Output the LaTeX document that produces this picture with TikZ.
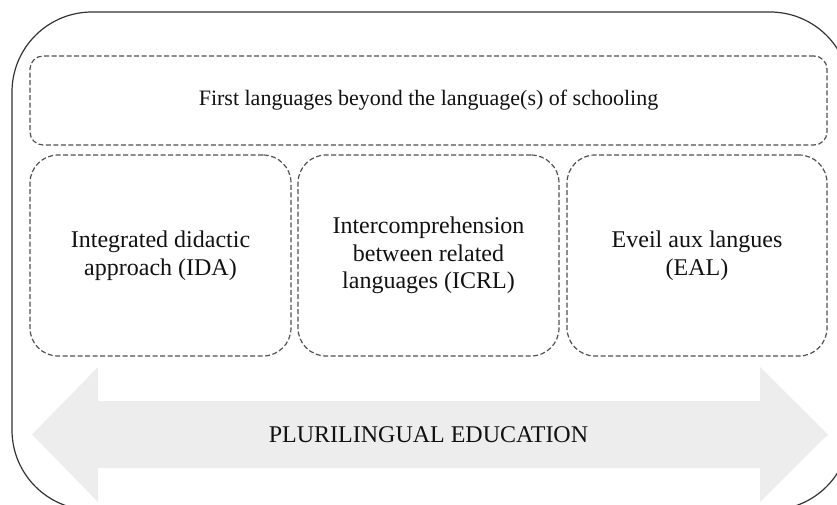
\documentclass[tikz,border=0pt]{standalone}
\usepackage{fontspec}
\setmainfont{Liberation Serif}
\definecolor{dashgray}{HTML}{505050}
\definecolor{outergray}{HTML}{333333}
\definecolor{arrowfill}{HTML}{EDEDED}
\definecolor{textblack}{HTML}{111111}
\begin{document}
\begin{tikzpicture}[x=1pt,y=-1pt,
  dbox/.style={draw=dashgray, line width=1.2pt, dash pattern=on 5pt off 2.5pt,
    rectangle, inner sep=0pt, align=center, text=textblack,
    font=\fontsize{24}{27.5}\selectfont},
  topbox/.style={dbox, rounded corners=13pt, minimum width=797pt, minimum height=89pt,
    font=\fontsize{22}{26}\selectfont},
  subbox/.style={dbox, rounded corners=28pt, minimum height=201pt},
  lbl/.style={text=textblack, font=\fontsize{24}{27.5}\selectfont, inner sep=0pt}]
\useasboundingbox (0,0) rectangle (837,504);
\begin{scope}
  \clip (0,0) rectangle (837,504);
  \draw[outergray, line width=1.2pt, rounded corners=80pt] (12,12) rectangle (850,510);
\end{scope}
\node[topbox] (first) at (428.5,100.5) {First languages beyond the language(s) of schooling};
\node[subbox, minimum width=261pt] (ida) at (160.5,255.5) {Integrated didactic\\approach (IDA)};
\node[subbox, minimum width=261pt] (icrl) at (428.5,255.5) {Intercomprehension\\between related\\languages (ICRL)};
\node[subbox, minimum width=260pt] (eal) at (697,255.5) {Eveil aux langues\\(EAL)};
\fill[arrowfill] (32,434.5) -- (98,367) -- (98,401) -- (760,401) -- (760,367) -- (828,434.5)
  -- (760,502) -- (760,468) -- (98,468) -- (98,502) -- cycle;
\node[lbl] (pe) at (428.5,434.5) {PLURILINGUAL EDUCATION};
\end{tikzpicture}
\end{document}
